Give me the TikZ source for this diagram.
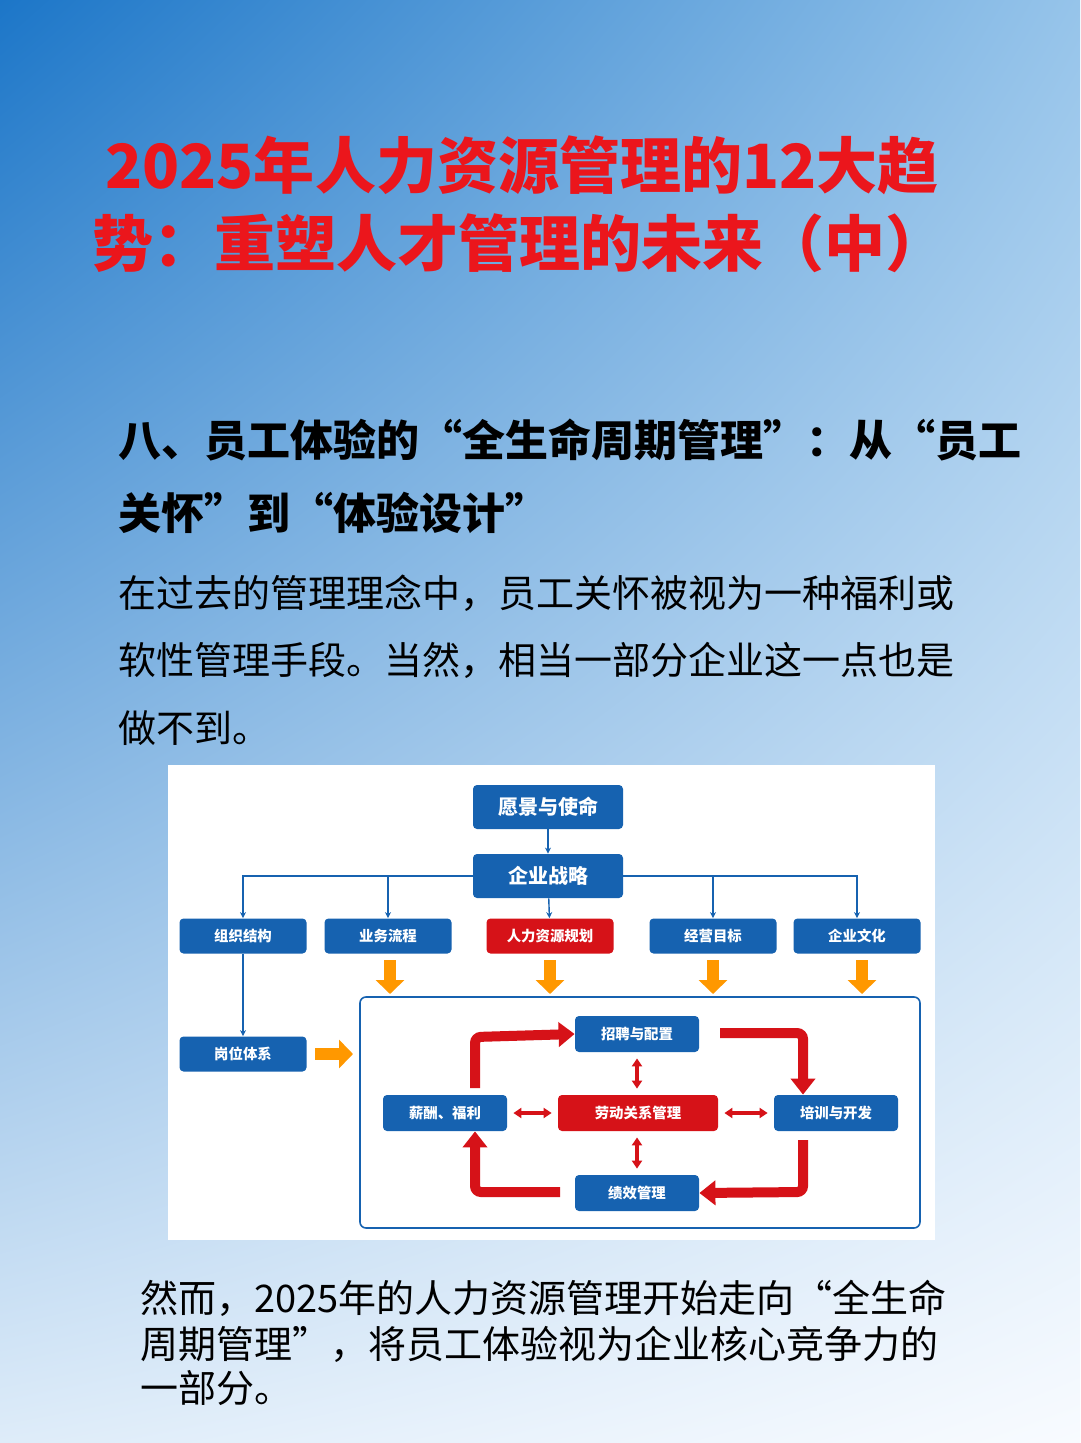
\documentclass[tikz,border=0pt]{standalone}
\usepackage{fontspec}
\setmainfont{Noto Sans CJK SC}
\usetikzlibrary{arrows.meta,shadings}
\definecolor{bx}{RGB}{22,98,176}
\definecolor{rx}{RGB}{214,18,24}
\definecolor{tr}{RGB}{235,22,28}
\definecolor{og}{RGB}{255,152,0}
\definecolor{gul}{RGB}{28,118,200}
\definecolor{gur}{RGB}{150,196,234}
\definecolor{gll}{RGB}{222,236,249}
\definecolor{glr}{RGB}{248,251,255}
\tikzset{
 bbox/.style={fill=bx,rounded corners=2pt,text=white,font=\bfseries\fontsize{7.2}{8}\selectfont,minimum width=63.5pt,minimum height=17.5pt,inner sep=0pt},
 rbox/.style={bbox,fill=rx},
 topbox/.style={bbox,minimum width=75pt,minimum height=22pt,font=\bfseries\fontsize{10}{12}\selectfont},
 cbox/.style={bbox,minimum width=62pt,minimum height=18pt},
 blink/.style={draw=bx,line width=0.7pt,-{Stealth[length=3pt,width=3pt]}},
 oarr/.style={draw=og,line width=6pt,-{Triangle[length=7pt,width=14pt]}},
 rarr/.style={draw=rx,line width=5pt,rounded corners=3pt,-{Triangle[length=8pt,width=12pt]}},
 rdbl/.style={draw=rx,line width=1.6pt,{Triangle[length=4pt,width=5pt]}-{Triangle[length=4pt,width=5pt]}},
 body/.style={anchor=west,inner sep=0pt,font=\fontsize{19}{23}\selectfont},
}
\begin{document}
\begin{tikzpicture}[x=0.5pt,y=-0.5pt]
\useasboundingbox (0,0) rectangle (1080,1443);
\shade[upper left=gul,upper right=gur,lower left=gll,lower right=glr] (0,0) rectangle (1080,1443);
\node[anchor=west,inner sep=0pt,text=tr,font=\bfseries\fontsize{30.5}{36}\selectfont] (t1) at (105,165) {2025年人力资源管理的12大趋};
\node[anchor=west,inner sep=0pt,text=tr,font=\bfseries\fontsize{30.5}{36}\selectfont] (t2) at (92,243) {势：重塑人才管理的未来（中）};
\node[anchor=west,inner sep=0pt,font=\bfseries\fontsize{21.5}{26}\selectfont] (h1) at (118,440) {八、员工体验的“全生命周期管理”：从“员工};
\node[anchor=west,inner sep=0pt,font=\bfseries\fontsize{21.5}{26}\selectfont] (h2) at (118,513) {关怀”到“体验设计”};
\node[body] (p1) at (118,593) {在过去的管理理念中，员工关怀被视为一种福利或};
\node[body] (p2) at (118,660) {软性管理手段。当然，相当一部分企业这一点也是};
\node[body] (p3) at (118,728) {做不到。};
\node[body] (q1) at (140,1298) {然而，2025年的人力资源管理开始走向“全生命};
\node[body] (q2) at (140,1344) {周期管理”，将员工体验视为企业核心竞争力的};
\node[body] (q3) at (140,1388) {一部分。};
% diagram panel
\fill[white] (168,765) rectangle (935,1240);
\draw[bx,line width=0.8pt,rounded corners=3pt] (360,997) rectangle (920,1228);
\node[topbox] (v) at (548,807) {愿景与使命};
\node[topbox] (s) at (548,876) {企业战略};
\node[bbox] (a1) at (243,936) {组织结构};
\node[bbox] (a2) at (388,936) {业务流程};
\node[rbox] (a3) at (550,936) {人力资源规划};
\node[bbox] (a4) at (713,936) {经营目标};
\node[bbox] (a5) at (857,936) {企业文化};
\node[bbox] (g) at (243,1054) {岗位体系};
\node[cbox] (c1) at (637,1034) {招聘与配置};
\node[cbox] (c2) at (445,1113) {薪酬、福利};
\node[cbox,fill=rx,minimum width=80pt] (c0) at (638,1113) {劳动关系管理};
\node[cbox] (c3) at (836,1113) {培训与开发};
\node[cbox] (c4) at (637,1193) {绩效管理};
\draw[blink] (v) -- (s);
\draw[blink] (s) -- (a3);
\draw[blink] (s.west) -| (a1.north);
\draw[blink] (s.west) -| (a2.north);
\draw[blink] (s.east) -| (a4.north);
\draw[blink] (s.east) -| (a5.north);
\draw[blink] (a1) -- (g);
\coordinate (o1) at (390,960); \coordinate (o1e) at (390,994);
\coordinate (o2) at (550,960); \coordinate (o2e) at (550,994);
\coordinate (o3) at (713,960); \coordinate (o3e) at (713,994);
\coordinate (o4) at (862,960); \coordinate (o4e) at (862,994);
\coordinate (o5) at (315,1054); \coordinate (o5e) at (353,1054);
\foreach \p in {1,...,5}{\draw[oarr] (o\p) -- (o\p e);}
\coordinate (r1) at (475,1088); \coordinate (r1b) at (475,1037);
\coordinate (r2) at (720,1033); \coordinate (r2b) at (803,1033);
\coordinate (r3) at (803,1140); \coordinate (r3b) at (803,1192);
\coordinate (r4) at (560,1192); \coordinate (r4b) at (475,1192);
\draw[rarr] (r1) -- (r1b) -- (c1.west);
\draw[rarr] (r2) -- (r2b) -- (c3.north -| r2b);
\draw[rarr] (r3) -- (r3b) -- (c4.east);
\draw[rarr] (r4) -- (r4b) -- (c2.south -| r4b);
\draw[rdbl] ([yshift=-3pt]c1.south) -- ([yshift=3pt]c1.south |- c0.north);
\draw[rdbl] ([yshift=-3pt]c0.south -| c4.north) -- ([yshift=3pt]c4.north);
\draw[rdbl] ([xshift=3pt]c2.east) -- ([xshift=-3pt]c0.west);
\draw[rdbl] ([xshift=3pt]c0.east) -- ([xshift=-3pt]c3.west);
\end{tikzpicture}
\end{document}
